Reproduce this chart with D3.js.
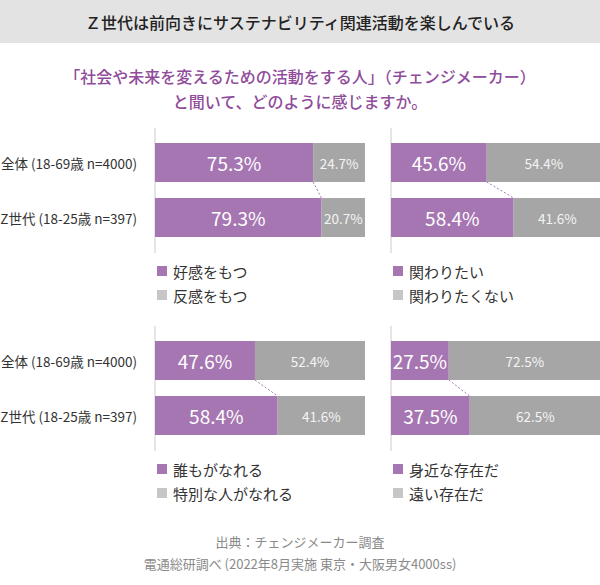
<!DOCTYPE html>
<html><head><meta charset="utf-8">
<script src="https://cdn.jsdelivr.net/npm/d3@7"></script>
<style>
html,body{margin:0;padding:0;background:#fff;}
svg{display:block;font-family:"Noto Sans CJK JP","Noto Sans",sans-serif;}
</style></head>
<body>
<svg id="chart" width="600" height="585"></svg>
<script>
const title = "Ｚ世代は前向きにサステナビリティ関連活動を楽しんでいる";
const subtitle = ["「社会や未来を変えるための活動をする人」（チェンジメーカー）", "と聞いて、どのように感じますか。"];
const groups = ["全体 (18-69歳 n=4000)", "Z世代 (18-25歳 n=397)"];
const purpleValues = [[75.3, 79.3], [45.6, 58.4], [47.6, 58.4], [27.5, 37.5]];
const grayValues = [[24.7, 20.7], [54.4, 41.6], [52.4, 41.6], [72.5, 62.5]];
const legendPurple = ["好感をもつ", "関わりたい", "誰もがなれる", "身近な存在だ"];
const legendGray = ["反感をもつ", "関わりたくない", "特別な人がなれる", "遠い存在だ"];
const footer = ["出典：チェンジメーカー調査", "電通総研調べ (2022年8月実施 東京・大阪男女4000ss)"];

const PURPLE = "#a676b2", GRAY = "#a6a6a6", LGRAY = "#c6c6c6";
const svg = d3.select("#chart");

svg.append("rect").attr("x",0).attr("y",0).attr("width",600).attr("height",43).attr("fill","#e3e3e3");
svg.append("text").attr("x",300).attr("y",22).attr("text-anchor","middle").attr("dominant-baseline","central")
  .attr("font-size",16).attr("font-weight",500).attr("fill","#222").text(title);
subtitle.forEach((s,i)=>svg.append("text").attr("x",300).attr("y",76+i*25).attr("text-anchor","middle")
  .attr("dominant-baseline","central").attr("font-size",16).attr("font-weight",500).attr("fill","#8f4c9b").text(s));

const x = d3.scaleLinear().domain([0,100]).range([0,210]);
const panelX = [155, 391, 155, 391];
const panelY = [143, 143, 341, 341];
const legendY = [271, 271, 469, 469];

for (let p=0;p<4;p++){
  const g = svg.append("g").attr("transform",`translate(${panelX[p]},${panelY[p]})`);
  const y = d3.scaleBand().domain(groups).range([0,94]).paddingInner(16/55).paddingOuter(0);
  g.append("line").attr("x1",0).attr("x2",0).attr("y1",-15).attr("y2",110).attr("stroke","#dcdcdc").attr("stroke-width",1.5);
  const rows = groups.map((grp,i)=>({grp, pv:purpleValues[p][i], gv:grayValues[p][i]}));
  g.selectAll(".pb").data(rows).join("rect").attr("x",0).attr("y",d=>y(d.grp))
    .attr("width",d=>x(d.pv)).attr("height",y.bandwidth()).attr("fill",PURPLE);
  g.selectAll(".gb").data(rows).join("rect").attr("x",d=>x(d.pv)).attr("y",d=>y(d.grp))
    .attr("width",d=>x(d.gv)).attr("height",y.bandwidth()).attr("fill",GRAY);
  g.selectAll(".pl").data(rows).join("text").attr("x",d=>x(d.pv)/2).attr("y",d=>y(d.grp)+y.bandwidth()/2)
    .attr("text-anchor","middle").attr("dominant-baseline","central").attr("font-size",19).attr("fill","#fff")
    .text(d=>d.pv.toFixed(1)+"%");
  g.selectAll(".gl").data(rows).join("text").attr("x",d=>x(d.pv)+x(d.gv)/2).attr("y",d=>y(d.grp)+y.bandwidth()/2)
    .attr("text-anchor","middle").attr("dominant-baseline","central").attr("font-size",13.5).attr("fill","#f4f4f4")
    .text(d=>d.gv.toFixed(1)+"%");
  g.append("line").attr("x1",x(rows[0].pv)).attr("y1",y(groups[0])+y.bandwidth())
    .attr("x2",x(rows[1].pv)).attr("y2",y(groups[1])).attr("stroke",PURPLE).attr("stroke-width",1).attr("stroke-dasharray","2,2");
  if (p%2===0){
    g.selectAll(".rl").data(rows).join("text").attr("x",-18).attr("y",d=>y(d.grp)+y.bandwidth()/2)
      .attr("text-anchor","end").attr("dominant-baseline","central").attr("font-size",13.5).attr("fill","#333").text(d=>d.grp);
  }
  const lg = svg.append("g").attr("transform",`translate(${panelX[p]+2},${legendY[p]})`);
  [[legendPurple[p],PURPLE],[legendGray[p],LGRAY]].forEach(([t,c],i)=>{
    lg.append("rect").attr("x",0).attr("y",i*24-5).attr("width",10).attr("height",10).attr("fill",c);
    lg.append("text").attr("x",16).attr("y",i*24).attr("dominant-baseline","central").attr("font-size",15).attr("fill","#333").text(t);
  });
}
footer.forEach((s,i)=>svg.append("text").attr("x",300).attr("y",541+i*22).attr("text-anchor","middle")
  .attr("dominant-baseline","central").attr("font-size",13).attr("fill","#8a8a8a").text(s));
</script>
</body></html>
